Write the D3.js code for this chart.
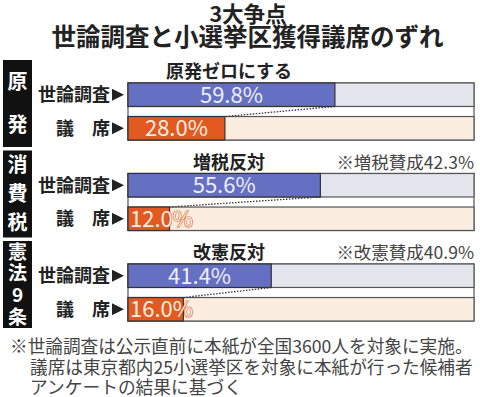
<!DOCTYPE html>
<html>
<head>
<meta charset="utf-8">
<script src="https://cdn.jsdelivr.net/npm/d3@7"></script>
<style>
  body { margin: 0; background: #fff; }
  text { font-family: "Noto Sans CJK JP", sans-serif; }
</style>
</head>
<body>
<div id="chart"></div>
<script>
// data
const issues = ["原発", "消費税", "憲法9条"];
const headers = ["原発ゼロにする", "増税反対", "改憲反対"];
const notes = ["", "※増税賛成42.3%", "※改憲賛成40.9%"];
const rows = ["世論調査", "議　席"];
const surveyValues = [59.8, 55.6, 41.4];
const seatValues = [28.0, 12.0, 16.0];
const footnotes = [
  "※世論調査は公示直前に本紙が全国3600人を対象に実施。",
  "議席は東京都内25小選挙区を対象に本紙が行った候補者",
  "アンケートの結果に基づく"
];

const W = 480, H = 397;
const svg = d3.select("#chart").append("svg")
  .attr("width", W).attr("height", H);

const x = d3.scaleLinear().domain([0, 100]).range([128, 474]);
const panel = d3.scaleBand().domain(issues).range([60, 331.5]).paddingInner(0);
const row = d3.scaleBand().domain(rows).range([23, 80]).paddingInner(0.3);

const colors = {
  survey: "#6670c2", surveyTrack: "#e5e5ed", surveyText: "#eceefa",
  seat: "#e25a1f", seatTrack: "#fbeee1", seatText: "#fdeee4",
  border: "#555"
};

// shrink/grow a text so its advance width matches w
function fitWidth(sel, w) {
  sel.each(function() {
    const fs = parseFloat(this.style.fontSize);
    const len = this.getComputedTextLength();
    if (len > 0) d3.select(this).style("font-size", (fs * w / len) + "px");
  });
}

// titles
svg.append("text").attr("x", 248).attr("y", 22)
  .attr("text-anchor", "middle").style("font-size", "21.5px")
  .style("font-weight", "bold").attr("fill", "#222").text("3大争点");
svg.append("text").attr("x", 247.5).attr("y", 46)
  .attr("text-anchor", "middle").style("font-size", "24.5px")
  .style("font-weight", "bold").attr("fill", "#222")
  .text("世論調査と小選挙区獲得議席のずれ")
  .call(fitWidth, 392);

const data = issues.map((d, i) => ({
  issue: d, header: headers[i], note: notes[i],
  survey: surveyValues[i], seat: seatValues[i]
}));

const g = svg.selectAll("g.panel").data(data).enter().append("g")
  .attr("class", "panel")
  .attr("transform", d => "translate(0," + panel(d.issue) + ")");

// black side boxes with vertical labels
g.append("rect").attr("x", 3).attr("y", 0).attr("width", 29).attr("height", 87)
  .attr("fill", "#111");
g.each(function(d) {
  const chars = Array.from(d.issue);
  const step = 87 / chars.length;
  const fs = chars.length > 3 ? 19 : 20;
  d3.select(this).selectAll("text.side").data(chars).enter().append("text")
    .attr("class", "side")
    .attr("x", 17.5)
    .attr("y", (c, j) => step * (j + 0.5))
    .attr("dy", "0.36em")
    .attr("text-anchor", "middle")
    .style("font-size", fs + "px").style("font-weight", "bold")
    .attr("fill", "#fff").text(c => c);
});

// header and note
g.append("text").attr("x", 229).attr("y", 12).attr("dy", "0.36em")
  .attr("text-anchor", "middle").style("font-size", "18px").style("font-weight", "bold")
  .attr("fill", "#222").text(d => d.header);
g.append("text").attr("x", 474).attr("y", 12).attr("dy", "0.36em")
  .attr("text-anchor", "end").style("font-size", "17.5px")
  .attr("fill", "#444").text(d => d.note);

// row labels
rows.forEach((r, j) => {
  g.append("text").attr("x", 110).attr("y", row(r) + row.bandwidth() / 2)
    .attr("dy", "0.36em").attr("text-anchor", "end")
    .style("font-size", "18px").style("font-weight", "bold").attr("fill", "#222")
    .text(r);
  g.append("path")
    .attr("d", "M112," + (row(r) + row.bandwidth() / 2 - 6) + "l12,6l-12,6z")
    .attr("fill", "#222");
});

// outer frame
g.append("rect").attr("x", x(0)).attr("y", row(rows[0]))
  .attr("width", x(100) - x(0)).attr("height", row(rows[1]) + row.bandwidth() - row(rows[0]))
  .attr("fill", "#fff").attr("stroke", colors.border).attr("stroke-width", 1.2);

// tracks
g.append("rect").attr("x", x(0)).attr("y", row(rows[0]))
  .attr("width", x(100) - x(0)).attr("height", row.bandwidth())
  .attr("fill", colors.surveyTrack).attr("stroke", colors.border).attr("stroke-width", 1.2);
g.append("rect").attr("x", x(0)).attr("y", row(rows[1]))
  .attr("width", x(100) - x(0)).attr("height", row.bandwidth())
  .attr("fill", colors.seatTrack).attr("stroke", colors.border).attr("stroke-width", 1.2);

// bars
g.append("rect").attr("x", x(0)).attr("y", row(rows[0]))
  .attr("width", d => x(d.survey) - x(0)).attr("height", row.bandwidth())
  .attr("fill", colors.survey).attr("stroke", "#333").attr("stroke-width", 1.2);
g.append("rect").attr("x", x(0)).attr("y", row(rows[1]))
  .attr("width", d => x(d.seat) - x(0)).attr("height", row.bandwidth())
  .attr("fill", colors.seat).attr("stroke", "#333").attr("stroke-width", 1.2);

// dotted connectors
g.append("line")
  .attr("x1", d => x(d.survey)).attr("y1", row(rows[0]) + row.bandwidth())
  .attr("x2", d => x(d.seat)).attr("y2", row(rows[1]))
  .attr("stroke", "#333").attr("stroke-width", 1.3).attr("stroke-dasharray", "1.5 1.5");

// value labels
function labelX(v) {
  const w = x(v) - x(0);
  return w > 80 ? x(0) + w / 2 : x(0) + 2;
}
function labelAnchor(v) { return x(v) - x(0) > 80 ? "middle" : "start"; }

g.append("text")
  .attr("x", d => labelX(d.survey)).attr("text-anchor", d => labelAnchor(d.survey))
  .attr("y", row(rows[0]) + row.bandwidth() / 2).attr("dy", "0.36em")
  .style("font-size", "22px").attr("fill", colors.surveyText)
  .attr("stroke", colors.survey).attr("stroke-width", 1).style("paint-order", "stroke")
  .text(d => d.survey.toFixed(1) + "%");
g.append("text")
  .attr("x", d => labelX(d.seat)).attr("text-anchor", d => labelAnchor(d.seat))
  .attr("y", row(rows[1]) + row.bandwidth() / 2).attr("dy", "0.36em")
  .style("font-size", "22px").attr("fill", colors.seatText)
  .attr("stroke", colors.seat).attr("stroke-width", 1.2).style("paint-order", "stroke")
  .text(d => d.seat.toFixed(1) + "%");

// footnote
const footX = [10, 30, 30];
const footLen = [463, 443, 212];
svg.selectAll("text.foot").data(footnotes).enter().append("text")
  .attr("class", "foot")
  .attr("x", (d, i) => footX[i])
  .attr("y", (d, i) => 347 + i * 20.5).attr("dy", "0.36em")
  .style("font-size", "17.5px").attr("fill", "#444")
  .text(d => d)
  .each(function(d, i) { d3.select(this).call(fitWidth, footLen[i]); });
</script>
</body>
</html>
